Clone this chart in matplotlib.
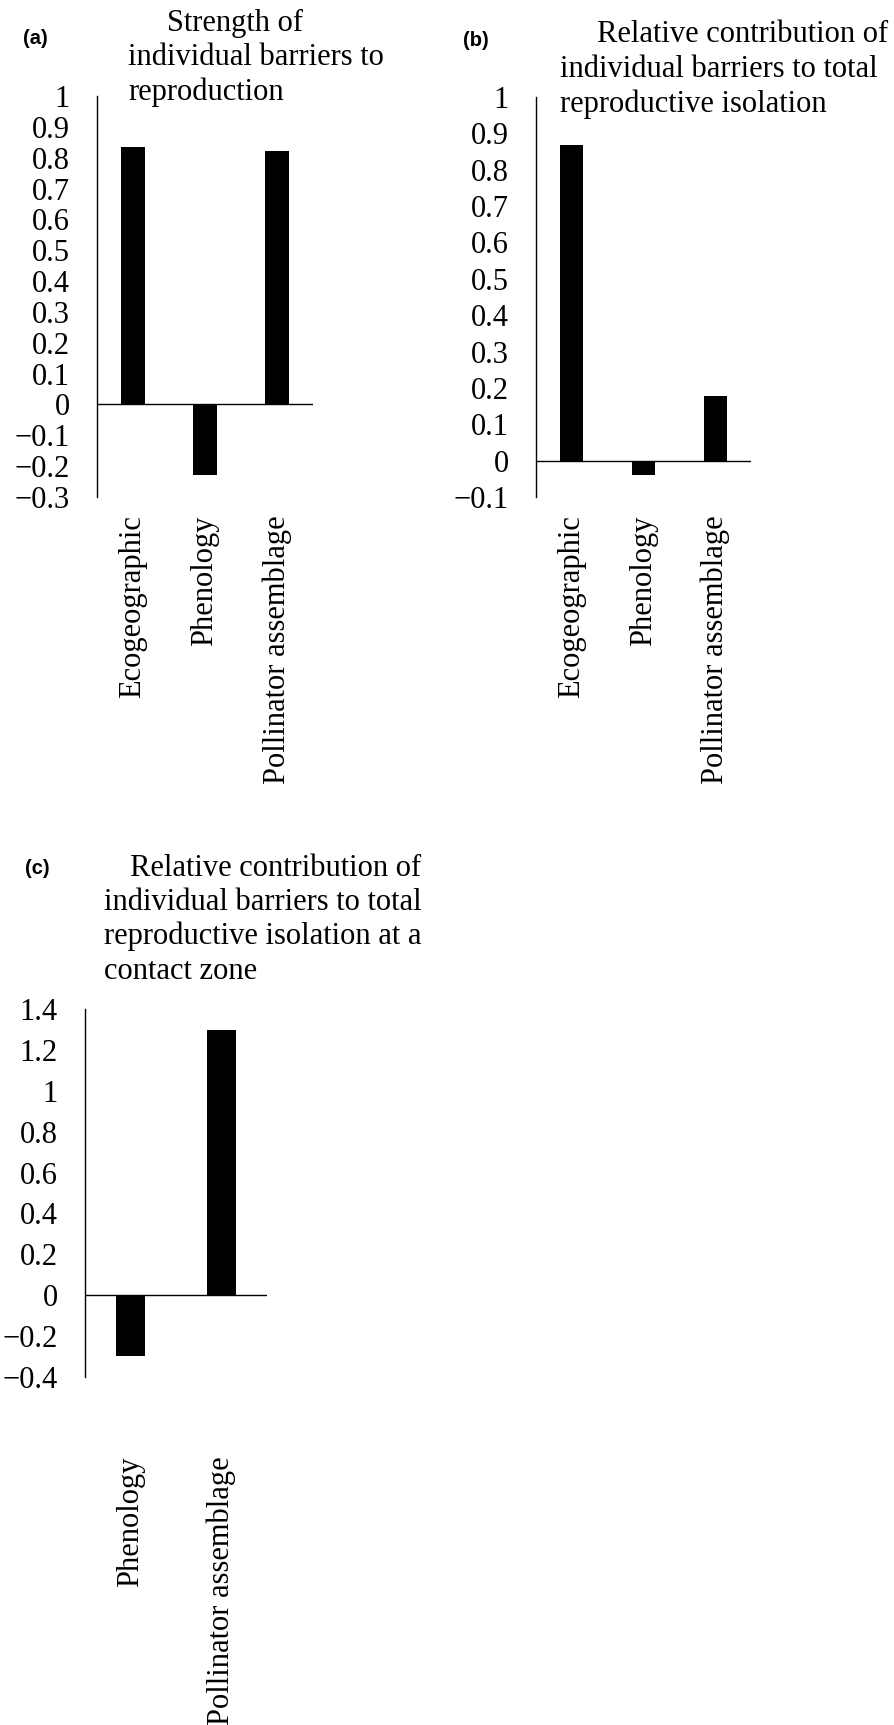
import numpy as np
import matplotlib
matplotlib.use('Agg')
import matplotlib.pyplot as plt

W, H = 895, 1725

# panel (a): strength of individual barriers
categories_ab = ['Ecogeographic', 'Phenology', 'Pollinator assemblage']
strength_a = [0.834, -0.229, 0.823]
# panel (b): relative contribution to total isolation
contrib_b = [0.868, -0.040, 0.179]
# panel (c): relative contribution at a contact zone
categories_c = ['Phenology', 'Pollinator assemblage']
contrib_c = [-0.297, 1.296]

ticks_a = np.round(np.arange(-0.3, 1.01, 0.1), 1)
ticks_b = np.round(np.arange(-0.1, 1.01, 0.1), 1)
ticks_c = np.round(np.arange(-0.4, 1.41, 0.2), 1)

plt.rcParams['font.family'] = ['Liberation Serif', 'DejaVu Serif']
SERIF = 22


def px_axes(fig, x0, y0, x1, y1):
    """Add axes from pixel box (top-left origin)."""
    return fig.add_axes([x0 / W, 1 - y1 / H, (x1 - x0) / W, (y1 - y0) / H])


def fmt(v):
    s = '{:g}'.format(v)
    return s.replace('-', '\u2212')


def draw_panel(ax, cats, vals, ticks, xpad):
    x = np.arange(len(cats))
    ax.bar(x, vals, width=0.32, color='black')
    ax.axhline(0, color='black', lw=1.0)
    ax.set_xlim(-0.5, len(cats) - 0.5)
    ax.set_ylim(ticks[0], ticks[-1])
    ax.set_yticks(ticks)
    ax.set_yticklabels([fmt(t) for t in ticks], fontsize=SERIF)
    ax.set_xticks(x)
    ax.set_xticklabels(cats, rotation=90, fontsize=SERIF)
    ax.tick_params(axis='y', length=0, pad=19.5)
    ax.tick_params(axis='x', length=0, pad=xpad)
    for side in ['top', 'right', 'bottom']:
        ax.spines[side].set_visible(False)
    ax.spines['left'].set_linewidth(1.0)


def title_lines(fig, lines):
    for txt, x, y in lines:
        fig.text(x / W, 1 - y / H, txt, fontsize=SERIF, ha='left', va='baseline')


def panel_label(fig, txt, x, y):
    fig.text(x / W, 1 - y / H, txt, fontsize=14.5, fontweight='bold',
             family='Liberation Sans', ha='left', va='center')


fig = plt.figure(figsize=(W / 100, H / 100), dpi=100)

ax_a = px_axes(fig, 97, 96, 313, 497)
draw_panel(ax_a, categories_ab, strength_a, ticks_a, 13)
ax_b = px_axes(fig, 536, 97, 751, 497)
draw_panel(ax_b, categories_ab, contrib_b, ticks_b, 13)
ax_c = px_axes(fig, 85, 1009, 267, 1377)
draw_panel(ax_c, categories_c, contrib_c, ticks_c, 57)

title_lines(fig, [('Strength of', 167, 31),
                  ('individual barriers to', 128, 65),
                  ('reproduction', 128, 100)])
title_lines(fig, [('Relative contribution of', 597, 42),
                  ('individual barriers to total', 560, 77),
                  ('reproductive isolation', 560, 112)])
title_lines(fig, [('Relative contribution of', 130, 876),
                  ('individual barriers to total', 104, 910),
                  ('reproductive isolation at a', 104, 944),
                  ('contact zone', 104, 979)])

panel_label(fig, '(a)', 23, 39)
panel_label(fig, '(b)', 463, 40)
panel_label(fig, '(c)', 25, 868)

fig.savefig('out.png', dpi=100)
